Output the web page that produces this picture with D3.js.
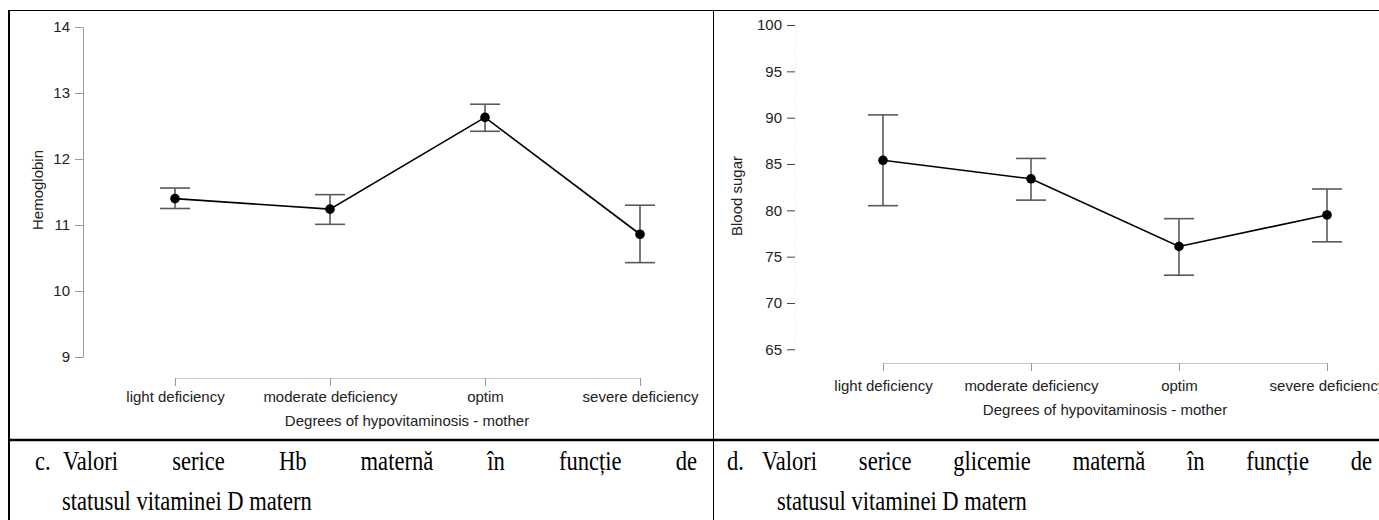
<!DOCTYPE html>
<html><head><meta charset="utf-8">
<script src="https://cdn.jsdelivr.net/npm/d3@7/dist/d3.min.js"></script>
<style>body{margin:0;background:#fff;} svg{display:block;}</style>
</head><body><svg id="c" width="1379" height="520"></svg>
<script>
// ---- data ----
const categories = ["light deficiency", "moderate deficiency", "optim", "severe deficiency"];
const hbMean  = [11.40, 11.24, 12.63, 10.86];
const hbLower = [11.25, 11.01, 12.42, 10.43];
const hbUpper = [11.56, 11.46, 12.83, 11.30];
const hbTicks = [9, 10, 11, 12, 13, 14];
const sugarMean  = [85.4, 83.4, 76.1, 79.5];
const sugarLower = [80.5, 81.1, 73.0, 76.6];
const sugarUpper = [90.3, 85.6, 79.1, 82.3];
const sugarTicks = [65, 70, 75, 80, 85, 90, 95, 100];
const xTitle = "Degrees of hypovitaminosis - mother";
const captionC1 = ["Valori", "serice", "Hb", "maternă", "în", "funcție", "de"];
const captionC2 = "statusul vitaminei D matern";
const captionD1 = ["Valori", "serice", "glicemie", "maternă", "în", "funcție", "de"];
const captionD2 = "statusul vitaminei D matern";

const svg = d3.select("#c");
const FONT = "'Liberation Sans', Arial, sans-serif";
const SERIF = "'Liberation Serif', 'Times New Roman', serif";

function panel(o) {
  const g = svg.append("g");
  const x = d3.scalePoint().domain(categories).range(o.xr);
  const y = d3.scaleLinear().domain(o.yd).range(o.yr);

  // y axis
  const ya = g.append("g").attr("transform", `translate(${o.yAxisX},0)`)
    .call(d3.axisLeft(y).tickValues(o.ticks).tickFormat(d3.format("d"))
      .tickSize(8).tickSizeOuter(0).tickPadding(5));
  ya.select(".domain").attr("stroke", o.yDomainColor).attr("stroke-width", 1)
    .attr("stroke-dasharray", o.yDomainDash || null);
  ya.selectAll(".tick line").attr("stroke", o.yTickColor).attr("stroke-width", 1);
  ya.selectAll(".tick text").attr("font-family", FONT).attr("font-size", 15).attr("fill", "#222");

  // x axis
  const xa = g.append("g").attr("transform", `translate(0,${o.xAxisY})`)
    .call(d3.axisBottom(x).tickSize(8).tickSizeOuter(0).tickPadding(o.xPad));
  xa.select(".domain").attr("stroke", "#c8c8c8").attr("stroke-width", 1.2);
  xa.selectAll(".tick line").attr("stroke", "#999").attr("stroke-width", 1);
  xa.selectAll(".tick text").attr("font-family", FONT).attr("font-size", 15).attr("fill", "#222");

  // titles
  g.append("text").attr("x", o.xTitleX).attr("y", o.xTitleY).attr("text-anchor", "middle")
    .attr("font-family", FONT).attr("font-size", 15).attr("fill", "#222").text(xTitle);
  g.append("text").attr("transform", `translate(${o.yTitleX},${o.yTitleY}) rotate(-90)`)
    .attr("text-anchor", "middle").attr("dy", "0.35em")
    .attr("font-family", FONT).attr("font-size", 15).attr("fill", "#222").text(o.yTitle);

  const data = categories.map((c, i) => ({c, m: o.mean[i], lo: o.lower[i], hi: o.upper[i]}));
  // error bars
  const eb = g.append("g").attr("stroke", "#5a5a5a").attr("stroke-width", 1.6).attr("fill", "none");
  eb.selectAll(".v").data(data).join("line")
    .attr("x1", d => x(d.c)).attr("x2", d => x(d.c)).attr("y1", d => y(d.lo)).attr("y2", d => y(d.hi));
  eb.selectAll(".t").data(data).join("line")
    .attr("x1", d => x(d.c) - 15).attr("x2", d => x(d.c) + 15).attr("y1", d => y(d.hi)).attr("y2", d => y(d.hi));
  eb.selectAll(".b").data(data).join("line")
    .attr("x1", d => x(d.c) - 15).attr("x2", d => x(d.c) + 15).attr("y1", d => y(d.lo)).attr("y2", d => y(d.lo));
  // line
  g.append("path").datum(data).attr("fill", "none").attr("stroke", "#000").attr("stroke-width", 1.6)
    .attr("d", d3.line().x(d => x(d.c)).y(d => y(d.m)));
  g.selectAll("circle").data(data).join("circle")
    .attr("cx", d => x(d.c)).attr("cy", d => y(d.m)).attr("r", 4.8).attr("fill", "#000");
}

panel({
  xr: [175, 640], yd: [9, 14], yr: [357, 27], ticks: hbTicks,
  yAxisX: 83, yDomainColor: "#999", yTickColor: "#999",
  xAxisY: 378, xPad: 5,
  xTitleX: 407, xTitleY: 426, yTitleX: 38, yTitleY: 190, yTitle: "Hemoglobin",
  mean: hbMean, lower: hbLower, upper: hbUpper
});
panel({
  xr: [883, 1327], yd: [65, 100], yr: [349.3, 25], ticks: sugarTicks,
  yAxisX: 795, yDomainColor: "#e4e4e4", yDomainDash: "1,2", yTickColor: "#444",
  xAxisY: 363, xPad: 9,
  xTitleX: 1105, xTitleY: 415, yTitleX: 737, yTitleY: 196, yTitle: "Blood sugar",
  mean: sugarMean, lower: sugarLower, upper: sugarUpper
});

// ---- table borders ----
const bl = svg.append("g").attr("stroke", "#000");
bl.append("line").attr("x1", 9).attr("x2", 1379).attr("y1", 10.5).attr("y2", 10.5).attr("stroke-width", 1);
bl.append("line").attr("x1", 9).attr("x2", 9).attr("y1", 10).attr("y2", 520).attr("stroke-width", 2);
bl.append("line").attr("x1", 713.5).attr("x2", 713.5).attr("y1", 10).attr("y2", 520).attr("stroke-width", 1);
bl.append("line").attr("x1", 9).attr("x2", 1379).attr("y1", 440).attr("y2", 440).attr("stroke-width", 2.5);

// ---- captions ----
const FS = 28;
function measure(t) {
  const n = svg.append("text").attr("font-family", SERIF).attr("font-size", FS).text(t);
  const w = n.node().getComputedTextLength(); n.remove(); return w;
}
const sx = 250 / measure(captionC2);
function plain(t, x0, y) {
  svg.append("text").attr("transform", `translate(${x0},${y}) scale(${sx},1)`)
    .attr("font-family", SERIF).attr("font-size", FS).attr("fill", "#000").text(t);
}
function justified(words, x0, x1, y) {
  const ws = words.map(measure);
  const span = (x1 - x0) / sx;
  const gap = (span - d3.sum(ws)) / (words.length - 1);
  const g = svg.append("g").attr("transform", `translate(${x0},${y}) scale(${sx},1)`);
  let cx = 0;
  words.forEach((w, i) => {
    g.append("text").attr("x", cx).attr("font-family", SERIF).attr("font-size", FS).attr("fill", "#000").text(w);
    cx += ws[i] + gap;
  });
}
plain("c.", 35, 470);
justified(captionC1, 63, 697, 470);
plain(captionC2, 62, 510);
plain("d.", 727, 470);
justified(captionD1, 762, 1372, 470);
plain(captionD2, 777, 510);
</script></body></html>
